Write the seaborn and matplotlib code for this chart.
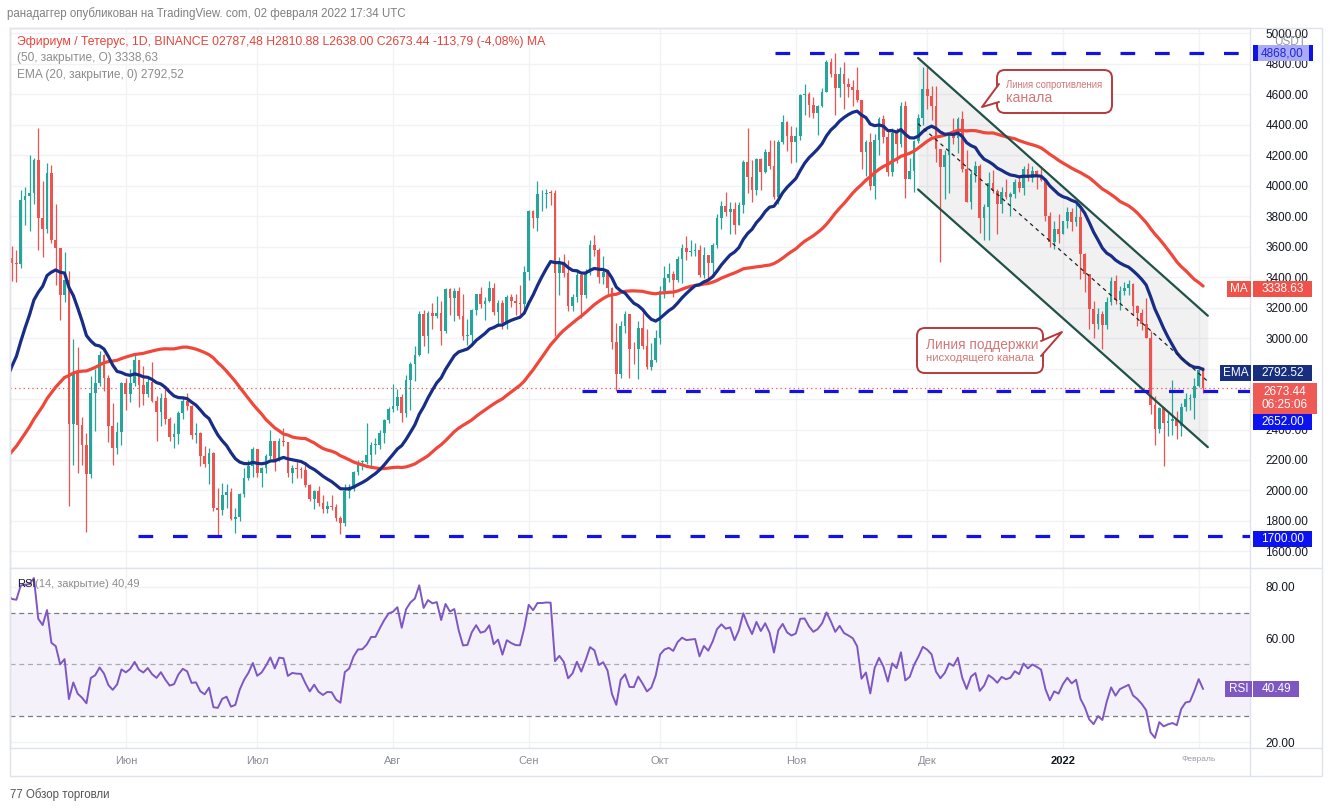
import numpy as np
import pandas as pd
import matplotlib
matplotlib.use('Agg')
import matplotlib.pyplot as plt
import matplotlib.dates as mdates
from matplotlib.patches import Rectangle, FancyBboxPatch, Polygon
from matplotlib.lines import Line2D
from matplotlib.transforms import IdentityTransform
import seaborn as sns

# ---------------- data (ETH/USDT, 1D, Binance) ----------------
# closes before the visible window (1 Mar - 5 May 2021), only used to warm up MA/EMA/RSI
warmup_close = [
    1566, 1487, 1575, 1541, 1533, 1654, 1723, 1834, 1868, 1799, 1826, 1772, 1924, 1854, 1791, 1806,
    1822, 1782, 1812, 1813, 1783, 1681, 1669, 1583, 1589, 1700, 1716, 1691, 1819, 1846, 1919,
    1977, 2143, 2028, 2093, 2107, 2113, 1964, 2080, 2070, 2135, 2151, 2138, 2299, 2432, 2514,
    2422, 2316, 2235, 2163, 2331, 2357, 2402, 2364, 2211, 2316, 2534, 2662, 2746, 2757, 2773,
    2945, 2950, 3431, 3241, 3523,
]

first_day = '2021-05-06'

close = [
    # May 6-31
    3490, 3484, 3902, 3929, 3950, 4168, 3785, 3715, 4079, 3640, 3587, 3282, 3380, 2438, 2771, 2430,
    2296, 2109, 2642, 2706, 2888, 2736, 2420, 2278, 2386, 2706,
    # Jun
    2634, 2707, 2855, 2689, 2630, 2713, 2590, 2517, 2609, 2472, 2354, 2373, 2509, 2590, 2551, 2367,
    2374, 2228, 2175, 2246, 1888, 1875, 1968, 1990, 1813, 1829, 1978, 2083, 2161, 2275,
    # Jul
    2113, 2150, 2227, 2322, 2198, 2324, 2317, 2116, 2147, 2139, 2137, 2036, 1941, 1995, 1915, 1877,
    1898, 1895, 1820, 1786, 1995, 2024, 2124, 2188, 2190, 2230, 2299, 2300, 2380, 2462, 2537,
    # Aug
    2557, 2610, 2507, 2725, 2827, 2890, 3158, 3013, 3163, 3141, 3164, 3045, 3322, 3265, 3310, 3147,
    3011, 3018, 3183, 3287, 3225, 3243, 3325, 3173, 3228, 3096, 3269, 3244, 3227, 3225, 3433,
    # Sep
    3834, 3790, 3942, 3942, 3953, 3952, 3427, 3497, 3427, 3213, 3270, 3410, 3285, 3429, 3612, 3575,
    3398, 3434, 3331, 2977, 2763, 3077, 3155, 2930, 2925, 3063, 2947, 2807, 2853, 3001,
    # Oct
    3308, 3391, 3418, 3381, 3517, 3588, 3563, 3571, 3578, 3412, 3541, 3495, 3610, 3789, 3866, 3829,
    3848, 3744, 3875, 4155, 4056, 3972, 4171, 4087, 4217, 4130, 3924, 4287, 4415, 4322, 4288,
    # Nov
    4322, 4594, 4601, 4527, 4475, 4519, 4611, 4807, 4730, 4637, 4731, 4668, 4647, 4624, 4558, 4221,
    4285, 3997, 4296, 4436, 4318, 4089, 4345, 4272, 4522, 4040, 4096, 4294, 4445, 4631,
    # Dec
    4588, 4519, 4240, 4119, 4198, 4347, 4309, 4433, 4111, 3895, 4077, 4131, 3784, 3862, 4018, 3962,
    3880, 3960, 3922, 3941, 4020, 3981, 4108, 4048, 4093, 4067, 4036, 3799, 3630, 3713, 3682,
    # Jan
    3769, 3829, 3762, 3794, 3550, 3417, 3193, 3092, 3157, 3083, 3238, 3372, 3248, 3311, 3331, 3351,
    3213, 3164, 3095, 3002, 2560, 2406, 2539, 2440, 2457, 2467, 2424, 2547, 2599, 2607, 2688,
    # Feb 1-2
    2787.48, 2673.44,
]

high = [
    3605, 3580, 3970, 3990, 4197, 4180, 4380, 4031, 4146, 4134, 3880, 3589, 3563, 3440, 2993, 2940,
    2485, 2380, 2750, 2800, 2912, 2893, 2760, 2575, 2448, 2714,
    2740, 2800, 2891, 2858, 2817, 2743, 2845, 2620, 2640, 2664, 2485, 2444, 2520, 2618, 2640, 2563,
    2441, 2385, 2289, 2276, 2250, 2017, 2050, 2040, 2015, 1888, 1985, 2150, 2200, 2284,
    2275, 2155, 2238, 2400, 2323, 2347, 2410, 2320, 2165, 2190, 2157, 2180, 2045, 2000, 2030, 1968,
    1934, 1972, 1912, 1834, 2040, 2044, 2130, 2197, 2200, 2440, 2320, 2345, 2400, 2470, 2550,
    2700, 2665, 2630, 2760, 2840, 2950, 3180, 3185, 3175, 3232, 3275, 3240, 3330, 3330, 3330, 3335,
    3290, 3125, 3188, 3290, 3335, 3271, 3375, 3360, 3250, 3250, 3280, 3290, 3290, 3350, 3470,
    3840, 3840, 4027, 3970, 3980, 3970, 3970, 3530, 3550, 3510, 3290, 3450, 3420, 3450, 3640, 3675,
    3590, 3535, 3445, 3337, 3100, 3110, 3175, 3160, 2975, 3110, 3170, 3060, 2970, 3050,
    3340, 3470, 3490, 3440, 3540, 3615, 3670, 3640, 3625, 3610, 3600, 3545, 3620, 3815, 3900, 3955,
    3890, 3890, 3890, 4170, 4375, 4170, 4180, 4180, 4240, 4300, 4300, 4300, 4460, 4420, 4390,
    4385, 4600, 4665, 4616, 4580, 4525, 4640, 4825, 4835, 4868, 4780, 4808, 4705, 4690, 4775, 4560,
    4300, 4345, 4340, 4450, 4460, 4368, 4380, 4380, 4550, 4552, 4180, 4300, 4470, 4780,
    4778, 4655, 4650, 4240, 4235, 4350, 4440, 4450, 4490, 4230, 4100, 4160, 4140, 3880, 4090, 4100,
    3980, 3990, 4040, 3960, 4040, 4060, 4130, 4145, 4130, 4100, 4125, 4040, 3825, 3770, 3810,
    3770, 3860, 3850, 3880, 3845, 3560, 3420, 3245, 3200, 3175, 3270, 3400, 3410, 3340, 3365, 3380,
    3360, 3215, 3190, 3265, 3045, 2620, 2545, 2545, 2510, 2725, 2520, 2575, 2640, 2635, 2740,
    2810, 2810.88,
]

low = [
    3375, 3365, 3460, 3740, 3700, 3880, 3580, 3528, 3689, 3622, 3350, 3118, 3237, 1900, 2170, 2113,
    2170, 1730, 2085, 2390, 2684, 2650, 2320, 2166, 2240, 2300,
    2526, 2581, 2688, 2550, 2558, 2616, 2580, 2322, 2420, 2435, 2325, 2280, 2306, 2469, 2530, 2340,
    2312, 2158, 2153, 2042, 1868, 1700, 1840, 1885, 1805, 1720, 1802, 1955, 2066, 2090,
    2091, 2021, 2117, 2208, 2131, 2192, 2290, 2089, 2050, 2081, 2085, 2021, 1930, 1880, 1898, 1850,
    1855, 1870, 1798, 1718, 1766, 1954, 1995, 2100, 2135, 2172, 2150, 2240, 2270, 2310, 2440,
    2515, 2530, 2450, 2480, 2530, 2720, 2880, 2950, 2900, 3058, 3130, 2955, 3030, 3150, 3110, 3125,
    2990, 2955, 2970, 3150, 3200, 3120, 3235, 3150, 3080, 3060, 3060, 3205, 3150, 3160, 3160,
    3380, 3720, 3700, 3830, 3850, 3870, 3010, 3280, 3400, 3180, 3175, 3233, 3130, 3260, 3410, 3540,
    3360, 3355, 3290, 2930, 2651, 2740, 3030, 2740, 2830, 2733, 2930, 2800, 2790, 2840,
    2960, 3265, 3365, 3270, 3370, 3360, 3510, 3535, 3540, 3400, 3395, 3380, 3400, 3591, 3715, 3800,
    3680, 3680, 3740, 3820, 3950, 3890, 3935, 3970, 4080, 4110, 3912, 3880, 4270, 4225, 4150,
    4155, 4300, 4460, 4450, 4440, 4330, 4513, 4610, 4710, 4460, 4580, 4500, 4580, 4520, 4550, 4105,
    4060, 3970, 3910, 4200, 4280, 4060, 4060, 4150, 4250, 3920, 4040, 3960, 4280, 4400,
    4500, 4430, 4155, 3500, 3910, 3950, 4270, 4215, 4090, 3890, 3845, 4025, 3690, 3640, 3640, 3950,
    3680, 3820, 3910, 3800, 3920, 3960, 3938, 4030, 4020, 3980, 4030, 3765, 3600, 3585, 3625,
    3680, 3720, 3700, 3735, 3390, 3300, 3060, 3000, 3060, 2930, 3060, 3218, 3225, 3185, 3280, 3280,
    3150, 3080, 3050, 3000, 2500, 2300, 2380, 2159, 2360, 2365, 2340, 2360, 2520, 2530, 2470,
    2680, 2638.00,
]

# indicator values printed by TradingView for the last bar
last_ma50 = 3338.63
last_ema20 = 2792.52
last_rsi = 40.49

# horizontal support / resistance levels and where they start
levels = [4868, 2652, 1700]
level_starts = ['2021-10-27 05:00', '2021-09-13 05:00', '2021-06-03 19:00']

# descending channel: start/end time, upper line prices, channel height
channel_times = ['2021-11-28 22:00', '2022-02-03 02:00']
channel_top = [4836, 3146]
channel_height = 862

month_labels = ['Июн', 'Июл', 'Авг', 'Сен', 'Окт', 'Ноя', 'Дек', '2022', 'Февраль']

# ---------------- indicators ----------------
close = np.array(close, dtype=float)
high = np.array(high, dtype=float)
low = np.array(low, dtype=float)
opn = np.r_[warmup_close[-1], close[:-1]]

dates = pd.date_range(first_day, periods=len(close), freq='D')
warm_dates = pd.date_range(end=dates[0] - pd.Timedelta(days=1), periods=len(warmup_close), freq='D')
all_dates = warm_dates.append(dates)
all_close = pd.Series(np.r_[warmup_close, close])

ema20 = all_close.ewm(span=20, adjust=False).mean()
ma50 = all_close.rolling(50).mean()
delta = all_close.diff()
gain = delta.clip(lower=0).ewm(alpha=1 / 14, adjust=False).mean()
loss = (-delta.clip(upper=0)).ewm(alpha=1 / 14, adjust=False).mean()
rsi = 100 - 100 / (1 + gain / loss)

x = mdates.date2num(dates)
x_all = mdates.date2num(all_dates)

# ---------------- style ----------------
sns.set_theme(style='white')
plt.rcParams['font.family'] = ['Liberation Sans', 'DejaVu Sans']

W, H = 1332, 811
GREEN, RED = '#26a69a', '#ef5350'
EMA_C, MA_C, RSI_C = '#172d86', '#f0473b', '#7e57c2'
GRID, FRAME = '#f0f2f6', '#e0e3eb'
LEVEL_C = '#1212e8'
CALL_EC, CALL_TXT = '#b5393c', '#d47777'
PX_DAY = 4.379  # pixels per candle in the reference

fig = plt.figure(figsize=(W / 100, H / 100), dpi=100)
fig.patch.set_facecolor('white')
ax = fig.add_axes([10 / W, 1 - 568 / H, 1240 / W, 540 / H])
rax = fig.add_axes([10 / W, 1 - 748 / H, 1240 / W, 180 / H], sharex=ax)

x_left = x[0] - 2 / PX_DAY
x_right = x[0] + 1238 / PX_DAY
ax.set_xlim(x_left, x_right)
ax.set_ylim(1491.8, 5032.8)
rax.set_ylim(17.68, 87.35)

month_starts = mdates.date2num(pd.date_range('2021-06-01', '2022-02-01', freq='MS'))

for a in (ax, rax):
    a.set_facecolor('white')
    for s in a.spines.values():
        s.set_color(FRAME)
        s.set_linewidth(1)
    a.yaxis.tick_right()
    a.tick_params(axis='y', length=0, pad=11, labelsize=8.5, labelcolor='#131722')
    a.set_xticks(month_starts)
    a.grid(True, color=GRID, linewidth=1)
    a.set_axisbelow(True)

# labels hidden under the price tags are left blank
hidden_price = {2600, 2800}
ax.set_yticks(np.arange(1600, 5001, 200))
ax.yaxis.set_major_formatter(plt.FuncFormatter(
    lambda v, p: '' if round(v) in hidden_price else f'{v:.2f}'))
ax.tick_params(axis='x', labelbottom=False, length=0)

rax.set_yticks([20, 40, 60, 80])
rax.yaxis.set_major_formatter(plt.FuncFormatter(lambda v, p: '' if round(v) == 40 else f'{v:.2f}'))
rax.set_xticklabels(month_labels)
rax.tick_params(axis='x', length=0, pad=6, labelsize=8, labelcolor='#8a8d96')
for lbl in rax.get_xticklabels():
    if lbl.get_text() == '2022':
        lbl.set_fontweight('bold')
        lbl.set_color('#131722')
    if lbl.get_text() == 'Февраль':
        lbl.set_fontsize(6)
        lbl.set_color('#9a9da6')

# ---------------- channel ----------------
ct = mdates.date2num(pd.to_datetime(channel_times))
ctop = np.array(channel_top, dtype=float)
cbot = ctop - channel_height
ax.fill_between(ct, cbot, ctop, color='#787b86', alpha=0.1, linewidth=0, zorder=1)

# ---------------- candles ----------------
up = close >= opn
colors = np.where(up, GREEN, RED)
ax.vlines(x, low, high, colors=colors, linewidth=0.9, zorder=3)
body = np.maximum(np.abs(close - opn), 5)
ax.bar(x, body, bottom=np.minimum(close, opn), width=0.62, color=colors, linewidth=0, zorder=3)

# ---------------- moving averages ----------------
sns.lineplot(x=x_all, y=ma50.values, ax=ax, color=MA_C, linewidth=2.3, zorder=4)
sns.lineplot(x=x_all, y=ema20.values, ax=ax, color=EMA_C, linewidth=2.3, zorder=4)
ax.set_xlabel('')
ax.set_ylabel('')

# channel lines
ax.plot(ct, ctop, color='#1f5247', linewidth=1.6, zorder=5)
ax.plot(ct, cbot, color='#1f5247', linewidth=1.6, zorder=5)
ax.plot(ct, ctop - channel_height / 2, color='#222222', linewidth=0.9,
        linestyle=(0, (3, 3)), zorder=5)

# horizontal levels
for lev, start in zip(levels, level_starts):
    xs = mdates.date2num(pd.Timestamp(start))
    ax.plot([xs, x_right], [lev, lev], color=LEVEL_C, linewidth=2.3,
            linestyle=(0, (4.6, 6.2)), zorder=5, solid_capstyle='butt')

# last price dotted line
ax.axhline(close[-1], color=RED, linewidth=0.9, linestyle=(0, (1, 2.5)), zorder=2)
ax.set_xlim(x_left, x_right)

# ---------------- RSI ----------------
rax.axhspan(30, 70, color=RSI_C, alpha=0.08, linewidth=0, zorder=0)
for lv, c in zip([70, 50, 30], ['#787b86', '#a8abb4', '#787b86']):
    rax.axhline(lv, color=c, linewidth=0.9, linestyle=(0, (4, 3)), zorder=1)
sns.lineplot(x=x_all, y=rsi.values, ax=rax, color=RSI_C, linewidth=1.4, zorder=3)
rax.set_xlabel('')
rax.set_ylabel('')
rax.set_xlim(x_left, x_right)

# ---------------- frame around the widget ----------------
ident = IdentityTransform()
fig.add_artist(Rectangle((10, H - 776), 1312, 748, transform=ident, fill=False,
                         ec=FRAME, lw=1, zorder=1))
fig.add_artist(Line2D([1250, 1250], [H - 776, H - 748], transform=ident, color=FRAME, lw=1))
fig.add_artist(Line2D([1250, 1322], [H - 568, H - 568], transform=ident, color=FRAME, lw=1))
fig.add_artist(Line2D([1250, 1322], [H - 748, H - 748], transform=ident, color=FRAME, lw=1))


def ypix(axis, value):
    return axis.transData.transform((x_left, value))[1]


def tag(yc, text, fc, x0=1253, x1=1312, tc='white', h=16, fs=8.5):
    fig.add_artist(Rectangle((x0, yc - h / 2), x1 - x0, h, transform=ident, fc=fc, ec='none', zorder=6))
    fig.text((x0 + x1) / 2 / W, yc / H, text, ha='center', va='center', color=tc,
             fontsize=fs, zorder=7)


# price scale tags
y_hi = ypix(ax, levels[0])
tag(y_hi, '4868,00', '#a9abf5', tc='#2424e0')
fig.add_artist(Rectangle((1253, y_hi - 8), 5, 16, transform=ident, fc=LEVEL_C, ec='none', zorder=7))
fig.add_artist(Rectangle((1309, y_hi - 8), 4, 16, transform=ident, fc=LEVEL_C, ec='none', zorder=7))
fig.text(1290 / W, 1 - 42 / H, 'USDT', ha='center', va='center', color='#9598a1', fontsize=8.5, zorder=7)

y_ma = ypix(ax, last_ma50) - 3
tag(y_ma, 'MA', '#f0524a', x0=1227, x1=1251)
tag(y_ma, f'{last_ma50:.2f}', '#f0524a')

y_ema = ypix(ax, last_ema20) - 3
tag(y_ema, 'EMA', '#182f80', x0=1220, x1=1251)
tag(y_ema, f'{last_ema20:.2f}', '#182f80')

y_last = ypix(ax, close[-1])
fig.add_artist(Rectangle((1253, y_last - 26), 64, 31, transform=ident, fc='#ef5a57', ec='none', zorder=6))
fig.text(1285 / W, (y_last - 4) / H, f'{close[-1]:.2f}', ha='center', va='center',
         color='white', fontsize=8.5, zorder=7)
fig.text(1285 / W, (y_last - 17) / H, '06:25:06', ha='center', va='center',
         color='white', fontsize=8.5, zorder=7)

tag(y_last - 34, f'{levels[1]:.2f}', '#0b14f0')
tag(ypix(ax, levels[2]) - 3, f'{levels[2]:.2f}', '#0b14f0')

y_rsi = ypix(rax, last_rsi)
tag(y_rsi, 'RSI', '#7e57c2', x0=1225, x1=1252)
tag(y_rsi, f'{last_rsi:.2f}', '#7e57c2', x0=1253, x1=1299)

# ---------------- legend texts ----------------
fig.text(7 / W, 1 - 14 / H, 'ранадаггер опубликован на TradingView. com, 02 февраля 2022 17:34 UTC',
         color='#808080', fontsize=8.3, va='center')
fig.text(17 / W, 1 - 42 / H,
         'Эфириум / Тетерус, 1D, BINANCE 02787,48 H2810.88 L2638.00 C2673.44 -113,79 (-4,08%) MA',
         color='#e5443c', fontsize=8.8, va='center')
fig.text(17 / W, 1 - 58 / H, '(50, закрытие, О) 3338,63', color='#8c8c8c', fontsize=8.6, va='center')
fig.text(17 / W, 1 - 75 / H, 'EMA (20, закрытие, 0) 2792,52', color='#8c8c8c', fontsize=8.6, va='center')
fig.text(17 / W, 1 - 584 / H, 'RSI', color='#131722', fontsize=8, va='center', zorder=8)
fig.text(35 / W, 1 - 584 / H, '(14, закрытие) 40,49', color='#8c8c8c', fontsize=8, va='center')
fig.text(10 / W, 1 - 795 / H, '77 Обзор торговли', color='#555555', fontsize=8.3, va='center')


# ---------------- callouts ----------------
def callout(box, tip, base, texts):
    x0, y0, x1, y1 = box
    fig.add_artist(FancyBboxPatch((x0, H - y1), x1 - x0, y1 - y0,
                                  boxstyle='round,pad=0,rounding_size=8', transform=ident,
                                  fc='white', ec=CALL_EC, lw=1.4, zorder=10))
    pts = [(base[0][0], H - base[0][1]), (tip[0], H - tip[1]), (base[1][0], H - base[1][1])]
    fig.add_artist(Polygon(pts, closed=True, transform=ident, fc='white', ec='none', zorder=11))
    fig.add_artist(Line2D([p[0] for p in pts], [p[1] for p in pts], transform=ident,
                          color=CALL_EC, lw=1.4, zorder=12))
    for tx, ty, s, fs in texts:
        fig.text(tx / W, 1 - ty / H, s, color=CALL_TXT, fontsize=fs, va='center', zorder=13)


callout((997, 70, 1112, 113), (982, 107), [(999, 84), (999, 102)],
        [(1006, 85, 'Линия сопротивления', 6.9), (1006, 98, 'канала', 10.2)])
callout((917, 328, 1043, 373), (1062, 332), [(1041, 341), (1041, 356)],
        [(926, 345, 'Линия поддержки', 9.8), (926, 358, 'нисходящего канала', 8.1)])

fig.savefig('out.png', dpi=100)
